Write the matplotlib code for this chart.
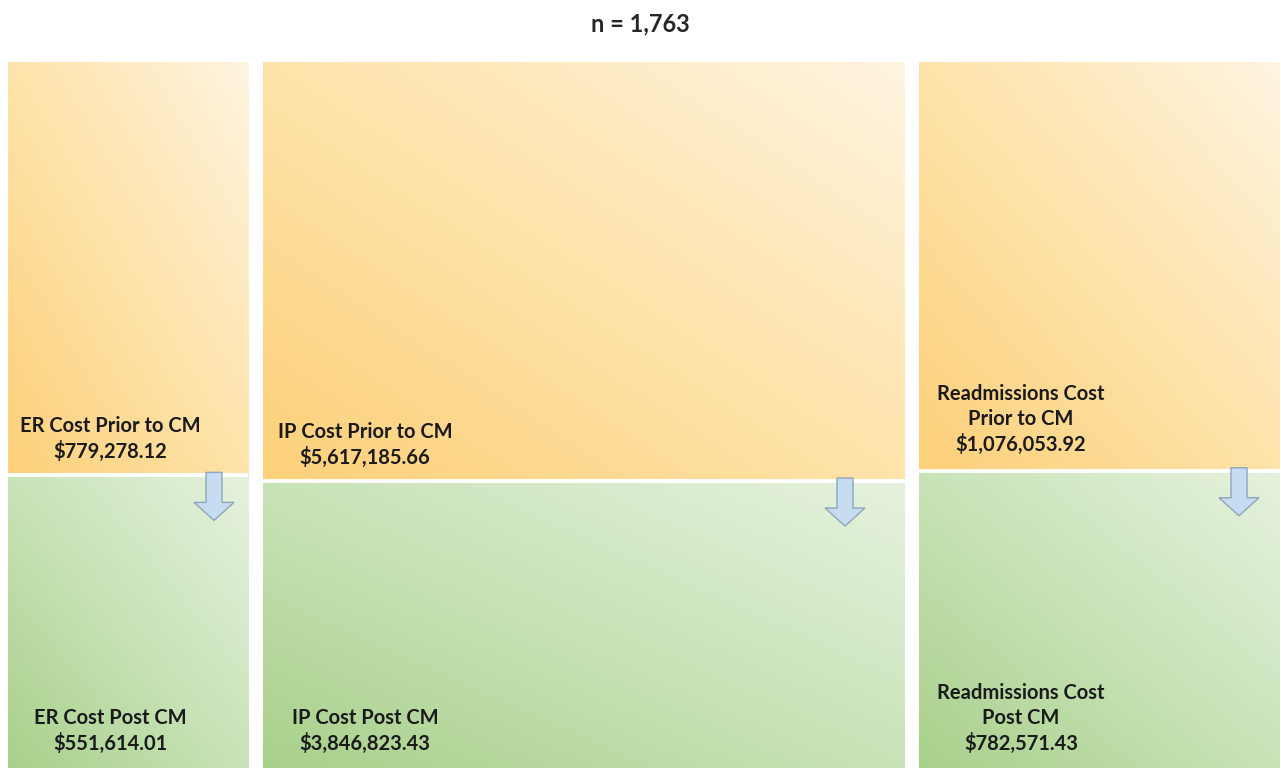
import numpy as np
import matplotlib
matplotlib.use("Agg")
import matplotlib.pyplot as plt
from matplotlib.colors import LinearSegmentedColormap
from matplotlib.patches import Polygon
import matplotlib.transforms as mtransforms

# ---- data ----
categories = ["ER", "IP", "Readmissions"]
prior_cost = [779278.12, 5617185.66, 1076053.92]
post_cost = [551614.01, 3846823.43, 782571.43]
prior_labels = ["ER Cost Prior to CM", "IP Cost Prior to CM", "Readmissions Cost\nPrior to CM"]
post_labels = ["ER Cost Post CM", "IP Cost Post CM", "Readmissions Cost\nPost CM"]
n_members = 1763

# ---- layout (pixels) ----
W, H = 1281, 770
col_x = [(8, 248), (263, 905), (919, 1280)]
top_px, bottom_px = 62, 768
arrow_dx = [34, 60, 41]   # arrow centre distance from the right edge of each column
prior_text_dy = [13, 13, 16]  # label offset above the prior/post divider

FONT = ["Lato", "DejaVu Sans"]

orange = LinearSegmentedColormap.from_list("orange", ["#fdd079", "#fee3aa", "#fff4e0"])
green = LinearSegmentedColormap.from_list("green", ["#a8d08b", "#c9e3b8", "#e6f2de"])

fig = plt.figure(figsize=(W / 100, H / 100), dpi=100)
fig.patch.set_facecolor("white")

fig.text(0.5, 1 - 24 / H, f"n = {n_members:,}", ha="center", va="center",
         fontsize=17, fontweight="bold", color="#262626", family=FONT)

u = np.linspace(0, 1, 200)
v = np.linspace(0, 1, 200)
U, V = np.meshgrid(u, v)
grad = (U + V) / 2  # dark at lower left, light at upper right

for i, cat in enumerate(categories):
    x0, x1 = col_x[i]
    ax = fig.add_axes([x0 / W, 1 - bottom_px / H, (x1 - x0) / W, (bottom_px - top_px) / H])
    total = prior_cost[i] + post_cost[i]
    ax.axis("off")

    bars_post = ax.bar(0.5, post_cost[i], width=1.0, bottom=0, color="none",
                       edgecolor="none", linewidth=0)
    bars_prior = ax.bar(0.5, prior_cost[i], width=1.0, bottom=post_cost[i], color="none",
                        edgecolor="none", linewidth=0)

    for bar, cmap in ((bars_post[0], green), (bars_prior[0], orange)):
        y0 = bar.get_y()
        y1 = y0 + bar.get_height()
        im = ax.imshow(grad, cmap=cmap, origin="lower", aspect="auto",
                       extent=(0, 1, y0, y1), zorder=0, interpolation="bilinear")
        im.set_clip_path(bar)
    ax.set_xlim(0, 1)
    ax.set_ylim(0, total)
    # white divider between prior and post
    ax.axhline(post_cost[i], color="white", linewidth=2.8, zorder=3)

    # labels
    cx = 102  # pixels from the column's left edge
    ax.annotate(f"{prior_labels[i]}\n${prior_cost[i]:,.2f}",
                xy=(0, post_cost[i]), xycoords=("axes fraction", "data"),
                xytext=(cx, prior_text_dy[i]), textcoords="offset pixels",
                ha="center", va="bottom", fontsize=14.5, fontweight="bold",
                color="#1a1a1a", family=FONT, linespacing=1.3, zorder=5)
    ax.annotate(f"{post_labels[i]}\n${post_cost[i]:,.2f}",
                xy=(0, 0), xycoords=("axes fraction", "data"),
                xytext=(cx, 14), textcoords="offset pixels",
                ha="center", va="bottom", fontsize=14.5, fontweight="bold",
                color="#1a1a1a", family=FONT, linespacing=1.3, zorder=5)

    # down arrow straddling the prior/post boundary
    bx, by = ax.transData.transform((1.0, post_cost[i]))
    cxp = bx - arrow_dx[i]
    top = by + 3
    shaft_w, head_w, total_h, head_h = 8, 20, 48, 18
    verts = [
        (cxp - shaft_w, top), (cxp + shaft_w, top),
        (cxp + shaft_w, top - (total_h - head_h)), (cxp + head_w, top - (total_h - head_h)),
        (cxp, top - total_h),
        (cxp - head_w, top - (total_h - head_h)), (cxp - shaft_w, top - (total_h - head_h)),
    ]
    arrow = Polygon(verts, closed=True, facecolor="#c5dcf1", edgecolor="#8ea4bd",
                    linewidth=1.0, transform=mtransforms.IdentityTransform(), zorder=6)
    fig.add_artist(arrow)

fig.savefig("out.png", dpi=100, facecolor="white")
